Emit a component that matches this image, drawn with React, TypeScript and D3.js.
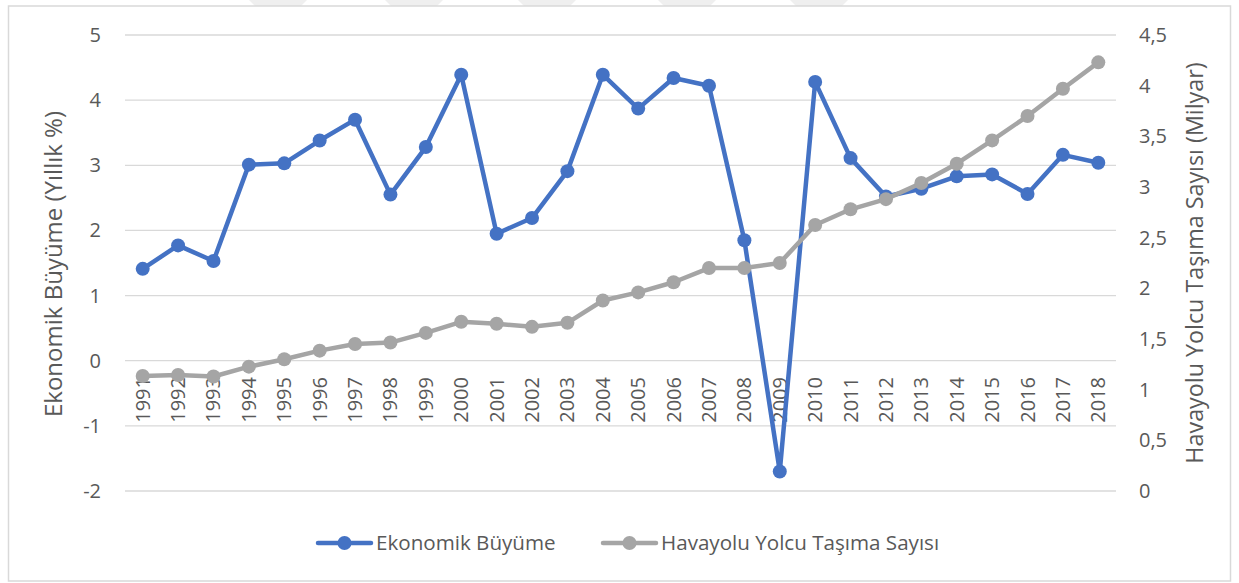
import React from "react";
import * as d3 from "d3";

const years = d3.range(1991, 2019).map(String);
const growth = [1.41, 1.77, 1.53, 3.01, 3.03, 3.38, 3.7, 2.55, 3.28, 4.39, 1.95, 2.19, 2.91, 4.39, 3.87, 4.34, 4.22, 1.85, -1.7, 4.28, 3.11, 2.52, 2.64, 2.83, 2.86, 2.56, 3.16, 3.04];
const passengers = [1.135, 1.145, 1.13, 1.227, 1.3, 1.385, 1.45, 1.465, 1.56, 1.67, 1.65, 1.62, 1.66, 1.88, 1.96, 2.06, 2.2, 2.2, 2.25, 2.625, 2.78, 2.88, 3.04, 3.23, 3.46, 3.7, 3.97, 4.23];
const leftTicks = [-2, -1, 0, 1, 2, 3, 4, 5];
const rightTicks = [0, 0.5, 1, 1.5, 2, 2.5, 3, 3.5, 4, 4.5];
const seriesNames = ["Ekonomik Büyüme", "Havayolu Yolcu Taşıma Sayısı"];
const leftTitle = "Ekonomik Büyüme (Yıllık %)";
const rightTitle = "Havayolu Yolcu Taşıma Sayısı (Milyar)";

const W = 1239, H = 583;
const FONT = "'Open Sans', sans-serif";
const TXT = "#595959";
const BLUE = "#4472C4";
const GRAY = "#A5A5A5";

export default function App() {
  const x = d3.scaleBand().domain(years).range([125, 1116]);
  const yL = d3.scaleLinear().domain([-2, 5]).range([491, 35]);
  const yR = d3.scaleLinear().domain([0, 4.5]).range([491, 35]);
  const cx = (i: number) => (x(years[i]) as number) + x.bandwidth() / 2;
  const lineL = d3.line<number>().x((_, i) => cx(i)).y((d) => yL(d));
  const lineR = d3.line<number>().x((_, i) => cx(i)).y((d) => yR(d));
  const fmt = (v: number) => String(v).replace(".", ",");
  const wm = [249, 385, 518, 658, 790];

  return (
    <svg width={W} height={H} style={{ position: "absolute", left: 0, top: 0, background: "#fff" }} fontFamily={FONT}>
      <rect x={0} y={0} width={W} height={H} fill="#fff" />
      {wm.map((s, i) => (
        <polygon key={i} points={`${s},0 ${s + 58},0 ${s + 52},6 ${s + 6},6`} fill="#EFEFEF" />
      ))}
      <rect x={8.5} y={6} width={1222} height={575} fill="none" stroke="#D9D9D9" strokeWidth={1.5} />
      {leftTicks.map((t) => (
        <line key={t} x1={125} x2={1116} y1={yL(t)} y2={yL(t)} stroke="#D9D9D9" strokeWidth={1.3} />
      ))}
      {leftTicks.map((t) => (
        <text key={t} x={101} y={yL(t)} dy="0.35em" textAnchor="end" fontSize={20} fill={TXT}>{t}</text>
      ))}
      {rightTicks.map((t) => (
        <text key={t} x={1139} y={yR(t)} dy="0.35em" textAnchor="start" fontSize={20} fill={TXT}>{fmt(t)}</text>
      ))}
      {years.map((yr, i) => (
        <text key={yr} transform={`translate(${cx(i)},377) rotate(-90)`} dy="0.35em" textAnchor="end" fontSize={20} fill={TXT}>{yr}</text>
      ))}
      <text transform={`translate(54,264) rotate(-90)`} dy="0.35em" textAnchor="middle" fontSize={24} fill={TXT}>{leftTitle}</text>
      <text transform={`translate(1195,263) rotate(-90)`} dy="0.35em" textAnchor="middle" fontSize={23.3} fill={TXT}>{rightTitle}</text>

      <path d={lineL(growth) as string} fill="none" stroke={BLUE} strokeWidth={4.5} strokeLinejoin="round" />
      {growth.map((v, i) => (
        <circle key={i} cx={cx(i)} cy={yL(v)} r={7} fill={BLUE} />
      ))}
      <path d={lineR(passengers) as string} fill="none" stroke={GRAY} strokeWidth={4.5} strokeLinejoin="round" />
      {passengers.map((v, i) => (
        <circle key={i} cx={cx(i)} cy={yR(v)} r={7} fill={GRAY} />
      ))}

      <g>
        <line x1={318} x2={371} y1={543} y2={543} stroke={BLUE} strokeWidth={4.5} strokeLinecap="round" />
        <circle cx={344.5} cy={543} r={7} fill={BLUE} />
        <text x={376} y={543} dy="0.35em" fontSize={20.6} fill={TXT}>{seriesNames[0]}</text>
        <line x1={603} x2={656} y1={543} y2={543} stroke={GRAY} strokeWidth={4.5} strokeLinecap="round" />
        <circle cx={629.5} cy={543} r={7} fill={GRAY} />
        <text x={661} y={543} dy="0.35em" fontSize={20.6} fill={TXT}>{seriesNames[1]}</text>
      </g>
    </svg>
  );
}
